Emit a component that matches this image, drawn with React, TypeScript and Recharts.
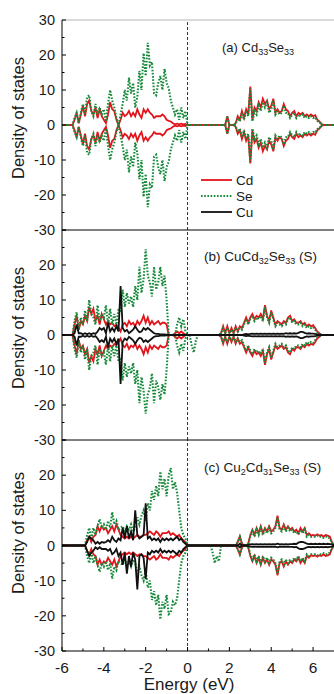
import React from "react";
import { LineChart, Line, XAxis, YAxis, ReferenceLine } from "recharts";

// energy grid (eV)
const energy = [
  -6, -5.9, -5.8, -5.7, -5.6, -5.5, -5.4, -5.3, -5.2, -5.1,
  -5, -4.9, -4.8, -4.7, -4.6, -4.5, -4.4, -4.3, -4.2, -4.1,
  -4, -3.9, -3.8, -3.7, -3.6, -3.5, -3.4, -3.3, -3.2, -3.1,
  -3, -2.9, -2.8, -2.7, -2.6, -2.5, -2.4, -2.3, -2.2, -2.1,
  -2, -1.9, -1.8, -1.7, -1.6, -1.5, -1.4, -1.3, -1.2, -1.1,
  -1, -0.9, -0.8, -0.7, -0.6, -0.5, -0.4, -0.3, -0.2, -0.1,
  0, 0.1, 0.2, 0.3, 0.4, 0.5, 0.6, 0.7, 0.8, 0.9,
  1, 1.1, 1.2, 1.3, 1.4, 1.5, 1.6, 1.7, 1.8, 1.9,
  2, 2.1, 2.2, 2.3, 2.4, 2.5, 2.6, 2.7, 2.8, 2.9,
  3, 3.1, 3.2, 3.3, 3.4, 3.5, 3.6, 3.7, 3.8, 3.9,
  4, 4.1, 4.2, 4.3, 4.4, 4.5, 4.6, 4.7, 4.8, 4.9,
  5, 5.1, 5.2, 5.3, 5.4, 5.5, 5.6, 5.7, 5.8, 5.9,
  6, 6.1, 6.2, 6.3, 6.4, 6.5, 6.6, 6.7, 6.8, 6.9,
  7,
];

// (a) Cd33Se33
const cd1 = [
  0, 0, 0, 0, 0, 0, 1.5, 3.5, 0.5, 3,
  5.5, 2.5, 6, 7, 4, 3, 5, 2, 4.5, 2.5,
  1.5, 0.5, 3, 6.5, 4.5, 4, 1.5, 0, 1.5, 3.5,
  2.5, 3, 4, 2.5, 3.5, 2.5, 4.5, 3, 2, 4.5,
  3.5, 4.5, 3.5, 3, 2, 2.5, 2.5, 2.5, 3, 2.5,
  1.5, 1.2, 1, 0.5, 0.2, 0.4, 0.2, 0.4, 0.2, 0.3,
  0, 0, 0, 0, 0, 0, 0, 0, 0, 0,
  0, 0, 0, 0, 0, 0, 0, 0, 0, 2.5,
  0, 0, 0, 0.5, 2.5, 1.5, 4, 2, 4.5, 3,
  11, 1.5, 5, 4, 6.5, 5, 7.5, 6, 7, 4.5,
  5.5, 7.5, 3.5, 4.5, 3.5, 4, 6, 4.5, 4, 2.5,
  3.5, 4, 2.5, 3.5, 3, 3.5, 2.5, 3, 2.5, 3,
  2.5, 2.8, 1.5, 1, 0.3, 0, 0, 0, 0, 0,
  0,
];
const se1 = [
  0, 0, 0, 0, 0, 0, 2, 3.5, 0.5, 3.5,
  6, 3, 8, 8.5, 4, 2.5, 6, 3, 5, 3,
  4.5, 1, 6, 10, 7, 5, 2, 0, 3, 6,
  10, 7, 13.5, 9, 12, 5, 8, 15.5, 10, 20.5,
  14, 23.5, 17, 18, 9, 8.5, 12, 14, 10, 16,
  12, 10.5, 7, 5, 3, 4.5, 1.5, 5, 2, 4,
  0, 0, 0, 0, 0, 0, 0, 0, 0, 0,
  0, 0, 0, 0, 0, 0, 0, 0, 0, 2.5,
  0, 0, 0, 0.3, 2, 1, 3.5, 1.5, 4, 2.5,
  10.5, 1, 4, 3, 5.5, 4, 6.5, 5, 6.5, 3.5,
  4.5, 7, 3, 4, 3, 3.5, 5.5, 3.5, 3.5, 2,
  3, 3.5, 2, 3, 2.5, 3, 2, 2.5, 2, 2.5,
  2, 2.2, 1.2, 0.8, 0.2, 0, 0, 0, 0, 0,
  0,
];

// (b) CuCd32Se33 (S)
const cd2 = [
  0, 0, 0, 0, 0, 0, 3, 5.5, 1.5, 4,
  3, 5.5, 4, 8, 6, 7.5, 4, 5.5, 3, 6,
  4.5, 3, 4, 3, 3.5, 2.5, 3, 2, 1, 3,
  3.5, 2.5, 4, 3, 3.5, 2.5, 4, 3, 4, 5.5,
  3.5, 5, 3, 4, 3, 3.5, 4, 3, 3.5, 3.5,
  3, 0, 0, 0, 0.5, 1, 0.5, 1, 0.5, 0,
  0, 0, 0, 0, 0, 0, 0, 0, 0, 0,
  0, 0, 0, 0, 0, 0, 0.5, 2.5, 0.5, 2.5,
  0.5, 2, 0.5, 2.5, 1, 2.5, 2, 3.5, 5, 3.5,
  5, 6, 4.5, 5.5, 5, 6, 4.5, 8.5, 5.5, 4,
  7, 5, 3, 4, 3.5, 3, 4, 3.5, 5, 5.5,
  4, 4.5, 3.5, 3.5, 4, 3, 3.5, 2.5, 3, 2.5,
  2.8, 2, 1, 0.5, 0, 0, 0, 0, 0, 0,
  0,
];
const se2 = [
  0, 0, 0, 0, 0, 0, 4, 6.5, 1.5, 5,
  3, 7, 4, 10, 6, 5, 3, 8.5, 4, 6,
  5, 8.5, 3, 7.5, 3, 6, 3, 7.5, 6.5, 13,
  8, 12, 9, 11, 8, 14, 10, 19.5, 12, 16,
  24.5, 17, 15, 11, 19.5, 13, 15, 19.5, 14, 17,
  10, 0, 0, 0, 0, 3, 5, 2.5, 4.5, 1,
  0, 0, 0, 0, 0, 0, 0, 0, 0, 0,
  0, 0, 0, 0, 0, 0, 0.5, 2, 0.5, 2,
  0.5, 1.5, 0.5, 2, 1, 2, 1.5, 3, 4.5, 3,
  4.5, 5.5, 4, 5, 4.5, 5.5, 4, 8, 5, 3.5,
  6.5, 4.5, 2.5, 3.5, 3, 2.5, 3.5, 3, 4.5, 5,
  3.5, 4, 3, 3, 3.5, 2.5, 3, 2, 2.5, 2,
  2.3, 1.5, 0.8, 0.3, 0, 0, 0, 0, 0, 0,
  0,
];
const se2Down = [
  0, 0, 0, 0, 0, 0, 4, 6.5, 1.5, 5,
  3, 7, 4, 10, 6, 5, 3, 8.5, 4, 6,
  5, 8.5, 3, 7.5, 3, 6, 3, 7.5, 6.5, 13,
  8, 12, 9, 11, 8, 14, 10, 19.5, 12, 16,
  22.5, 17, 15, 11, 19.5, 13, 15, 18.5, 14, 17,
  10, 0, 0, 0, 0, 3, 5, 2.5, 4.5, 1,
  0, 0, 3, 5, 1.5, 0, 0, 0, 0, 0,
  0, 0, 0, 0, 0, 0, 0.5, 2, 0.5, 2,
  0.5, 1.5, 0.5, 2, 1, 2, 1.5, 3, 4.5, 3,
  4.5, 5.5, 4, 5, 4.5, 5.5, 4, 8, 5, 3.5,
  6.5, 4.5, 2.5, 3.5, 3, 2.5, 3.5, 3, 4.5, 5,
  3.5, 4, 3, 3, 3.5, 2.5, 3, 2, 2.5, 2,
  2.3, 1.5, 0.8, 0.3, 0, 0, 0, 0, 0, 0,
  0,
];
const cu2 = [
  0, 0, 0, 0, 0, 0, 0.5, 3, 0.5, 0.5,
  0.2, 0.5, 0.2, 0.5, 0.2, 0.5, 0.3, 1, 2, 1.5,
  2, 0.5, 3.5, 1, 2, 1, 2.5, 1, 14, 2,
  1, 1.5, 0.5, 1, 1.5, 2.5, 1.5, 0.8, 1, 2,
  1.5, 2, 1.5, 1, 0.5, 0.3, 0.3, 0.2, 0.2, 0.2,
  0.1, 0, 0, 0, 0, 0, 0, 0, 0, 0,
  0, 0, 0, 0, 0, 0, 0, 0, 0, 0,
  0, 0, 0, 0, 0, 0, 0, 0, 0, 0,
  0, 0, 0, 0, 0, 0, 0, 0.2, 0.3, 0.2,
  0.3, 0.4, 0.3, 0.4, 0.3, 0.4, 0.3, 0.4, 0.3, 0.4,
  0.3, 0.4, 0.3, 0.4, 0.3, 0.4, 0.3, 0.5, 0.4, 0.5,
  0.4, 0.5, 0.4, 0.6, 0.9, 0.9, 0.6, 0.4, 0.5, 0.4,
  0.4, 0.3, 0.2, 0.1, 0, 0, 0, 0, 0, 0,
  0,
];

// (c) Cu2Cd31Se33 (S)
const cd3 = [
  0, 0, 0, 0, 0, 0, 0, 0, 0, 0,
  0, 0, 1.5, 2.5, 1, 2.5, 3, 5.5, 4, 5.5,
  4.5, 5, 3.5, 4.5, 5.5, 4, 6, 4.5, 3, 2.5,
  2, 2.5, 2, 2.5, 2, 2.5, 3, 2.5, 2.5, 3,
  3, 3.5, 4, 3.5, 3, 4, 3.5, 2.5, 3.5, 3.5,
  3.5, 4, 3, 3.5, 3, 2.5, 3, 2, 1.5, 1,
  0, 0, 0, 0, 0, 0, 0, 0, 0, 0,
  0, 0, 0, 0, 0, 0, 0, 0, 0, 0,
  0, 0, 0, 0, 1, 2.6, 0.5, 0, 0, 0.5,
  3, 4.5, 3, 5, 3.5, 5.5, 3.5, 5, 4, 5.5,
  4, 4.5, 5.5, 8.5, 5, 4.5, 6, 4.5, 5.5, 4.5,
  5, 4, 4.5, 3.5, 5, 4, 5, 3, 3.5, 2.8,
  3, 2.8, 3.2, 2.8, 3, 2.5, 3, 2.8, 2.5, 1,
  0,
];
const se3 = [
  0, 0, 0, 0, 0, 0, 0, 0, 0, 0,
  0, 0, 3, 5, 2, 5, 3, 5.5, 7.5, 5,
  6, 4.5, 7, 5, 9.5, 6, 7, 4.5, 5, 5.5,
  4, 5.5, 4.5, 6, 4, 5, 8, 6, 8.5, 10,
  7, 12, 10, 15.5, 13, 17, 14, 21, 16, 19,
  14, 20, 22, 16, 18, 15, 10, 5, 3, 2,
  0, 0, 0, 0, 0, 0, 0, 0, 0, 0,
  0, 0, 0, 0, 0, 0, 0, 0, 0, 0,
  0, 0, 0, 0, 1, 2.5, 0.5, 0, 0, 0.3,
  2.5, 4, 2.5, 4.5, 3, 5, 3, 4.5, 3.5, 5,
  3.5, 4, 5, 8, 4.5, 4, 5.5, 4, 5, 4,
  4.5, 3.5, 4, 3, 4.5, 3.5, 4.5, 2.5, 3, 2.5,
  2.5, 2.5, 2.8, 2.5, 2.5, 2.2, 2.5, 2.5, 2, 0.8,
  0,
];
const se3Down = [
  0, 0, 0, 0, 0, 0, 0, 0, 0, 0,
  0, 0, 3, 5, 2, 5, 3, 5.5, 7.5, 5,
  6, 4.5, 7, 5, 9.5, 6, 7, 4.5, 5, 5.5,
  4, 5.5, 4.5, 6, 4, 5, 8, 6, 8.5, 10,
  7, 12, 10, 15.5, 13, 17, 14, 21, 16, 18,
  14, 19.5, 19, 16, 17, 15, 10, 5, 3, 2,
  0, 0, 0, 0, 0, 0, 0, 0, 0, 0,
  0, 0, 2, 5, 3, 4.5, 0, 0, 0, 0,
  0, 0, 0, 0, 1, 2.5, 0.5, 0, 0, 0.3,
  2.5, 4, 2.5, 4.5, 3, 5, 3, 4.5, 3.5, 5,
  3.5, 4, 5, 8, 4.5, 4, 5.5, 4, 5, 4,
  4.5, 3.5, 4, 3, 4.5, 3.5, 4.5, 2.5, 3, 2.5,
  2.5, 2.5, 2.8, 2.5, 2.5, 2.2, 2.5, 2.5, 2, 0.8,
  0,
];
const cu3 = [
  0, 0, 0, 0, 0, 0, 0, 0, 0, 0,
  0, 0, 1, 2.5, 2, 1.5, 0.5, 1, 0.5, 1,
  0.8, 1, 1.5, 1, 2.5, 1.5, 1, 2, 1.5, 5,
  2, 5.5, 2, 4, 1.5, 10, 3, 2, 2.5, 3,
  12, 2, 2.5, 1.5, 2, 1.5, 2, 1, 2, 1.5,
  2, 1.5, 2, 1.5, 2, 2.5, 1.5, 2, 1, 0.5,
  0, 0, 0, 0, 0, 0, 0, 0, 0, 0,
  0, 0, 0, 0, 0, 0, 0, 0, 0, 0,
  0, 0, 0, 0, 0, 0.5, 0, 0, 0, 0.2,
  0.3, 0.4, 0.3, 0.4, 0.3, 0.4, 0.3, 0.4, 0.3, 0.4,
  0.3, 0.4, 0.3, 0.5, 0.3, 0.4, 0.3, 0.4, 0.3, 0.4,
  0.4, 0.5, 0.4, 0.8, 1, 1, 0.8, 0.5, 0.4, 0.5,
  0.4, 0.5, 0.4, 0.5, 0.4, 0.5, 0.4, 0.5, 0.4, 0.3,
  0,
];
const cu3Down = [
  0, 0, 0, 0, 0, 0, 0, 0, 0, 0,
  0, 0, 1.5, 3, 2, 1.5, 0.5, 1, 0.5, 1,
  1, 1, 1.5, 1, 2.5, 2, 1, 3, 2, 5.5,
  2, 8, 3, 6, 2, 4, 12.5, 3, 2.5, 3.5,
  9.5, 2, 2.5, 1.5, 2, 1.5, 2, 1, 2, 1.5,
  2, 1.5, 2, 1.5, 2, 2.5, 1.5, 2, 1, 0.5,
  0, 0, 0, 0, 0, 0, 0, 0, 0, 0,
  0, 0, 0, 0, 0, 0, 0, 0, 0, 0,
  0, 0, 0, 0, 0, 0.5, 0, 0, 0, 0.2,
  0.3, 0.4, 0.3, 0.4, 0.3, 0.4, 0.3, 0.4, 0.3, 0.4,
  0.3, 0.4, 0.3, 0.5, 0.3, 0.4, 0.3, 0.4, 0.3, 0.4,
  0.4, 0.5, 0.4, 0.8, 1, 1, 0.8, 0.5, 0.4, 0.5,
  0.4, 0.5, 0.4, 0.5, 0.4, 0.5, 0.4, 0.5, 0.4, 0.3,
  0,
];

const xTicks = [-6, -5, -4, -3, -2, -1, 0, 1, 2, 3, 4, 5, 6];
const yTicks = [-30, -25, -20, -15, -10, -5, 0, 5, 10, 15, 20, 25, 30];

const FONT = '"Liberation Sans", Arial, Helvetica, sans-serif';
const RED = "#e3151c";
const GREEN = "#16893a";
const BLACK = "#111";

function buildRows(cdUp: number[], cdDn: number[], seUp: number[], seDn: number[], cuUp?: number[], cuDn?: number[]) {
  return energy.map((e, i) => ({
    e,
    cdUp: cdUp[i],
    cdDn: -cdDn[i],
    seUp: seUp[i],
    seDn: -seDn[i],
    cuUp: cuUp ? cuUp[i] : null,
    cuDn: cuDn ? -cuDn[i] : null,
  }));
}

const makeYTick = (labelTop: boolean) => (props: any) => {
  const { x, y, payload } = props;
  const v = payload.value;
  const major = v % 10 === 0;
  const showLabel = major && (labelTop || v !== 30);
  return (
    <g>
      <line x1={x} x2={x + (major ? 4 : 2.5)} y1={y} y2={y} stroke="#000" strokeWidth={1} />
      {showLabel && (
        <text x={x - 7} y={y} dy={5} textAnchor="end" fontSize={14.5} fill="#1a1a1a" fontFamily={FONT}>
          {v}
        </text>
      )}
    </g>
  );
};

const XTick = (props: any) => {
  const { x, y, payload } = props;
  const v = payload.value;
  const major = v % 2 === 0;
  return (
    <g>
      <line x1={x} x2={x} y1={y} y2={y - (major ? 4 : 2.5)} stroke="#000" strokeWidth={1} />
      {major && (
        <text x={x} y={y + 22} textAnchor="middle" fontSize={15.5} fill="#1a1a1a" fontFamily={FONT}>
          {v}
        </text>
      )}
    </g>
  );
};

function DosPanel(props: any) {
  const { rows, top, height, mt, mb, bottomAxis, withCu, labelTop } = props;
  return (
    <div style={{ position: "absolute", left: 0, top }}>
      <LineChart width={334} height={height} data={rows} margin={{ top: mt, right: 0, bottom: mb, left: 0 }}>
        <XAxis
          dataKey="e"
          type="number"
          domain={[-6, 7]}
          ticks={xTicks}
          allowDataOverflow
          interval={0}
          height={bottomAxis ? 43 : 0}
          axisLine={bottomAxis ? { stroke: "#000" } : false}
          tickLine={false}
          tickSize={0}
          tickMargin={0}
          tick={bottomAxis ? XTick : false}
        />
        <YAxis
          type="number"
          domain={[-30, 30]}
          ticks={yTicks}
          allowDataOverflow
          interval={0}
          width={62}
          axisLine={{ stroke: "#000" }}
          tickLine={false}
          tickSize={0}
          tickMargin={0}
          tick={makeYTick(labelTop)}
        />
        {labelTop && <ReferenceLine y={30} stroke="#b5b5b5" />}
        {!bottomAxis && <ReferenceLine y={-30} stroke="#000" strokeWidth={1} />}
        <ReferenceLine x={0} stroke="#000" strokeDasharray="3 2" strokeWidth={0.8} />
        <Line type="linear" dataKey="cdUp" stroke={RED} strokeWidth={1.8} dot={false} isAnimationActive={false} />
        <Line type="linear" dataKey="cdDn" stroke={RED} strokeWidth={1.8} dot={false} isAnimationActive={false} />
        <Line type="linear" dataKey="seUp" stroke={GREEN} strokeWidth={2.1} strokeDasharray="1.6 1.6" dot={false} isAnimationActive={false} />
        <Line type="linear" dataKey="seDn" stroke={GREEN} strokeWidth={2.1} strokeDasharray="1.6 1.6" dot={false} isAnimationActive={false} />
        {withCu && <Line type="linear" dataKey="cuUp" stroke={BLACK} strokeWidth={1.8} dot={false} isAnimationActive={false} />}
        {withCu && <Line type="linear" dataKey="cuDn" stroke={BLACK} strokeWidth={1.8} dot={false} isAnimationActive={false} />}
      </LineChart>
    </div>
  );
}

const subStyle: React.CSSProperties = { fontSize: 9, position: "relative", top: 3 };

function YTitle({ cx, cy }: { cx: number; cy: number }) {
  return (
    <div
      style={{
        position: "absolute",
        left: cx - 100,
        top: cy - 10,
        width: 200,
        height: 20,
        lineHeight: "20px",
        textAlign: "center",
        fontSize: 16.5,
        color: "#1a1a1a",
        transform: "rotate(-90deg)",
        whiteSpace: "nowrap",
      }}
    >
      Density of states
    </div>
  );
}

export default function App() {
  const rows1 = buildRows(cd1, cd1, se1, se1);
  const rows2 = buildRows(cd2, cd2, se2, se2Down, cu2, cu2);
  const rows3 = buildRows(cd3, cd3, se3, se3Down, cu3, cu3Down);

  return (
    <div style={{ position: "absolute", left: 0, top: 0, width: 334, height: 694, background: "#fff", fontFamily: FONT, overflow: "hidden" }}>
      <DosPanel rows={rows1} top={0} height={240} mt={20} mb={10} bottomAxis={false} withCu={false} labelTop={true} />
      <DosPanel rows={rows2} top={220} height={230} mt={10} mb={10} bottomAxis={false} withCu={true} labelTop={false} />
      <DosPanel rows={rows3} top={430} height={264} mt={10} mb={0} bottomAxis={true} withCu={true} labelTop={false} />

      <YTitle cx={18} cy={118} />
      <YTitle cx={18} cy={328} />
      <YTitle cx={18} cy={533} />

      <div style={{ position: "absolute", left: 222, top: 40, fontSize: 13, color: "#1a1a1a", whiteSpace: "nowrap", lineHeight: "16px" }}>
        (a) Cd<span style={subStyle}>33</span>Se<span style={subStyle}>33</span>
      </div>
      <div style={{ position: "absolute", left: 204, top: 249, fontSize: 13.5, color: "#1a1a1a", whiteSpace: "nowrap", lineHeight: "16px" }}>
        (b) CuCd<span style={subStyle}>32</span>Se<span style={subStyle}>33</span> (S)
      </div>
      <div style={{ position: "absolute", left: 204, top: 460, fontSize: 13.5, color: "#1a1a1a", whiteSpace: "nowrap", lineHeight: "16px" }}>
        (c) Cu<span style={subStyle}>2</span>Cd<span style={subStyle}>31</span>Se<span style={subStyle}>33</span> (S)
      </div>

      <svg style={{ position: "absolute", left: 198, top: 170 }} width={70} height={52}>
        <line x1={3} x2={34} y1={10} y2={10} stroke={RED} strokeWidth={1.8} />
        <line x1={3} x2={34} y1={26} y2={26} stroke={GREEN} strokeWidth={2} strokeDasharray="1.6 1.6" />
        <line x1={3} x2={34} y1={42} y2={42} stroke={BLACK} strokeWidth={1.8} />
        <text x={38} y={15} fontSize={13.5} fill="#1a1a1a" fontFamily={FONT}>Cd</text>
        <text x={38} y={31} fontSize={13.5} fill="#1a1a1a" fontFamily={FONT}>Se</text>
        <text x={38} y={47} fontSize={13.5} fill="#1a1a1a" fontFamily={FONT}>Cu</text>
      </svg>

      <div style={{ position: "absolute", left: 89, top: 675, width: 200, textAlign: "center", fontSize: 17, color: "#1a1a1a", lineHeight: "20px" }}>
        Energy (eV)
      </div>
    </div>
  );
}
